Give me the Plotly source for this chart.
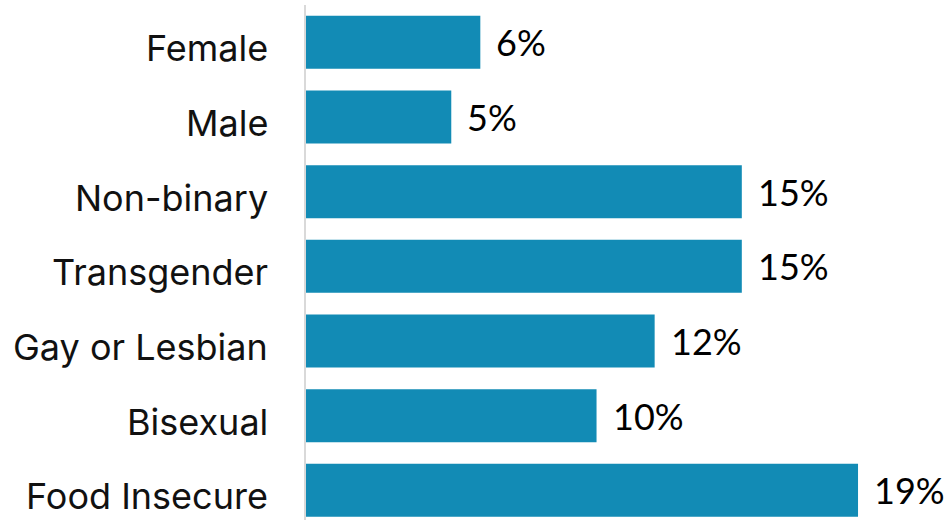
import plotly.graph_objects as go

# Share of respondents in each group
categories = ["Female", "Male", "Non-binary", "Transgender", "Gay or Lesbian", "Bisexual", "Food Insecure"]
values = [6, 5, 15, 15, 12, 10, 19]
labels = [f"{v}%" for v in values]

BAR_COLOR = "#128bb5"

fig = go.Figure(
    go.Bar(
        x=values,
        y=categories,
        orientation="h",
        marker=dict(color=BAR_COLOR, line=dict(width=0)),
        hoverinfo="skip",
    )
)

# Value labels just past the end of each bar
for cat, v, lab in zip(categories, values, labels):
    fig.add_annotation(
        x=v, y=cat, text=lab, showarrow=False,
        xanchor="left", yanchor="middle", xshift=14, yshift=0,
        font=dict(family="Lato, Carlito, sans-serif", size=36, color="#000000"),
    )

# Category names, right-aligned to the left of the axis line
for cat in categories:
    fig.add_annotation(
        x=0, xref="paper", y=cat, text=cat, showarrow=False,
        xanchor="right", yanchor="middle", xshift=-36, yshift=-6,
        font=dict(family="Inter, sans-serif", size=36, color="#111111"),
    )

fig.update_layout(
    width=951, height=520,
    margin=dict(l=306, r=0, t=5, b=0),
    paper_bgcolor="white", plot_bgcolor="white",
    bargap=0.29,
    showlegend=False,
    xaxis=dict(range=[0, 22.2], visible=False, showgrid=False, zeroline=False),
    yaxis=dict(
        categoryorder="array", categoryarray=categories,
        range=[6.397, -0.5],
        showline=True, linecolor="#d9d9d9", linewidth=2,
        showgrid=False, zeroline=False, ticks="",
        showticklabels=False,
    ),
)

fig.write_html("out.html")
